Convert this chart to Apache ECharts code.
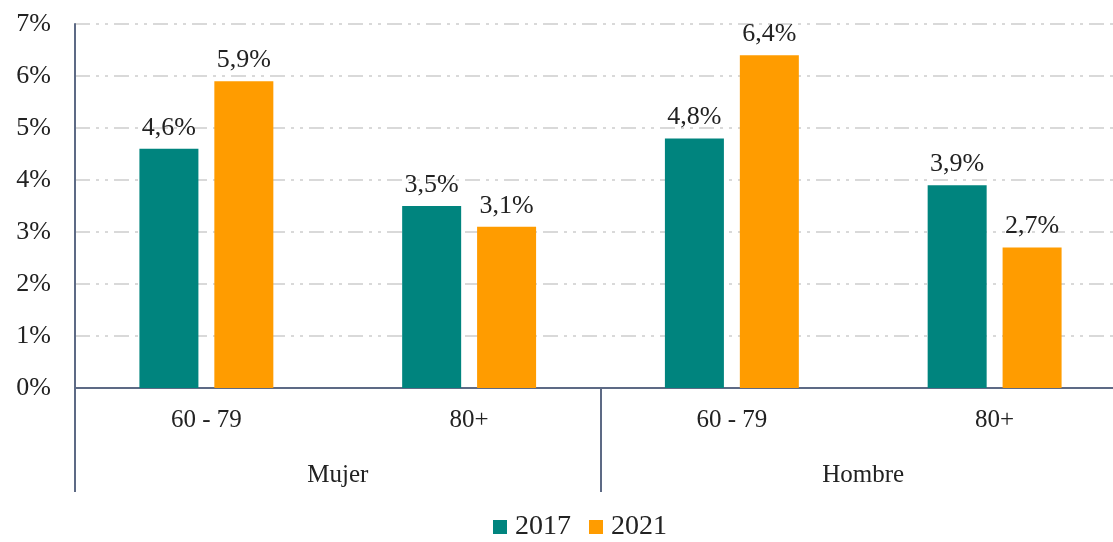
<!DOCTYPE html>
<html>
<head>
<meta charset="utf-8">
<script src="https://cdn.jsdelivr.net/npm/echarts@6/dist/echarts.min.js"></script>
<style>
  html, body { margin: 0; padding: 0; background: #fff; }
  #chart { width: 1113px; height: 542px; }
</style>
</head>
<body>
<div id="chart"></div>
<script>
"use strict";

var ageGroups = ["60 - 79", "80+", "60 - 79", "80+"];
var sexGroups = ["Mujer", "Hombre"];
var years = ["2017", "2021"];
var values2017 = [4.6, 3.5, 4.8, 3.9];
var values2021 = [5.9, 3.1, 6.4, 2.7];
var yTicks = [0, 1, 2, 3, 4, 5, 6, 7];

var font = "'Liberation Serif', 'DejaVu Serif', serif";
var axisColor = "#5d6a85";

var chart = echarts.init(document.getElementById("chart"));

function pctLabel(p) {
  return String(p.value).replace(".", ",") + "%";
}

chart.setOption({
  animation: false,
  textStyle: { fontFamily: font },
  color: ["#00847E", "#FF9C00"],
  grid: {
    left: 75,
    width: 1051,
    top: 24,
    bottom: 154,
    outerBoundsMode: "none",
  },
  legend: {
    bottom: -4,
    left: 488,
    data: years,
    icon: "rect",
    itemWidth: 14,
    itemHeight: 14,
    itemGap: 18,
    textStyle: {
      fontFamily: font,
      fontSize: 28,
      color: "#222",
      padding: [0, 0, 0, 3],
    },
  },
  xAxis: [
    {
      type: "category",
      data: ageGroups,
      axisLine: { lineStyle: { color: axisColor, width: 2 } },
      axisTick: { show: false },
      axisLabel: {
        fontFamily: font,
        fontSize: 25,
        color: "#222",
        margin: 20,
        interval: 0,
      },
    },
    {
      type: "category",
      data: sexGroups,
      position: "bottom",
      offset: 104,
      axisLine: { show: false },
      axisTick: {
        show: true,
        inside: true,
        length: 104,
        interval: 0,
        lineStyle: { color: axisColor, width: 2 },
      },
      axisLabel: {
        fontFamily: font,
        fontSize: 25,
        color: "#222",
        margin: -29,
        interval: 0,
      },
    },
  ],
  yAxis: {
    type: "value",
    min: yTicks[0],
    max: yTicks[yTicks.length - 1],
    interval: 1,
    axisLine: { show: true, lineStyle: { color: axisColor, width: 2 } },
    axisTick: { show: false },
    axisLabel: {
      formatter: "{value}%",
      fontFamily: font,
      fontSize: 26,
      color: "#222",
      margin: 24,
    },
    splitLine: {
      lineStyle: { color: "#d9d9d9", width: 2, type: [15, 6, 3, 6, 3, 6] },
    },
  },
  series: [
    {
      name: years[0],
      type: "bar",
      xAxisIndex: 0,
      data: values2017,
      barWidth: 59,
      barGap: "27%",
      label: {
        show: true,
        position: "top",
        distance: 8,
        formatter: pctLabel,
        fontFamily: font,
        fontSize: 26,
        color: "#222",
      },
    },
    {
      name: years[1],
      type: "bar",
      xAxisIndex: 0,
      data: values2021,
      barWidth: 59,
      label: {
        show: true,
        position: "top",
        distance: 8,
        formatter: pctLabel,
        fontFamily: font,
        fontSize: 26,
        color: "#222",
      },
    },
  ],
});
</script>
</body>
</html>
